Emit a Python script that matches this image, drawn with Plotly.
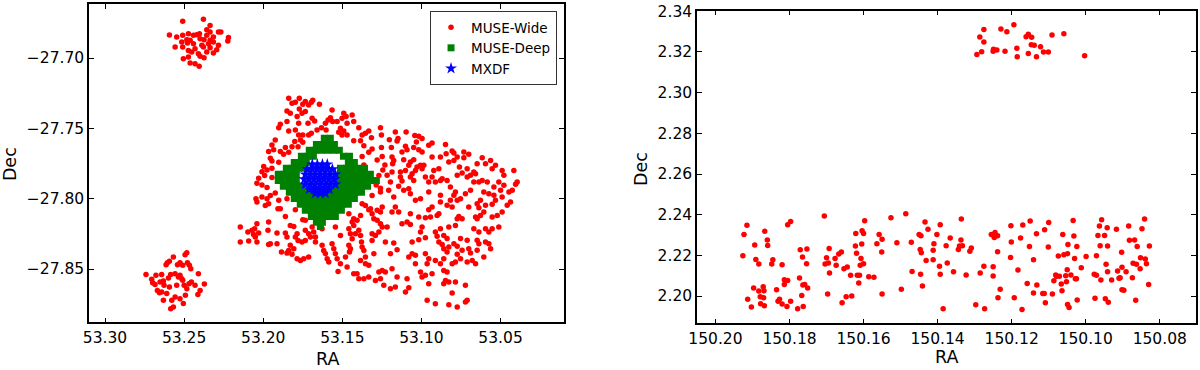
import plotly.graph_objects as go

# MUSE-Wide pointings in CDFS (RA, Dec)
cdfs_nw = [
    (53.2509, -27.6739), (53.2378, -27.6725), (53.2336, -27.6768), (53.2357, -27.6799),
    (53.2336, -27.6815), (53.2283, -27.6815), (53.2268, -27.6815), (53.2593, -27.6836),
    (53.2547, -27.6851), (53.2509, -27.6839), (53.2473, -27.6827), (53.2441, -27.6839),
    (53.2420, -27.6834), (53.2403, -27.6827), (53.2357, -27.6839), (53.2315, -27.6851),
    (53.2220, -27.6855), (53.2224, -27.6879), (53.2483, -27.6870), (53.2462, -27.6874),
    (53.2399, -27.6863), (53.2374, -27.6870), (53.2336, -27.6874), (53.2515, -27.6886),
    (53.2479, -27.6893), (53.2441, -27.6898), (53.2388, -27.6910), (53.2346, -27.6898),
    (53.2315, -27.6886), (53.2283, -27.6910), (53.2557, -27.6922), (53.2509, -27.6922),
    (53.2473, -27.6946), (53.2431, -27.6934), (53.2378, -27.6922), (53.2336, -27.6927),
    (53.2294, -27.6941), (53.2452, -27.6957), (53.2410, -27.6969), (53.2357, -27.6957),
    (53.2315, -27.6964), (53.2399, -27.6988), (53.2505, -27.7005), (53.2473, -27.6993),
    (53.2462, -27.7036), (53.2405, -27.7059), (53.2431, -27.7040), (53.2374, -27.6998),
]

cdfs_sw = [
    (53.2741, -27.8540), (53.2705, -27.8573), (53.2678, -27.8545), (53.2642, -27.8540),
    (53.2699, -27.8597), (53.2684, -27.8611), (53.2652, -27.8592), (53.2631, -27.8585),
    (53.2614, -27.8469), (53.2606, -27.8455), (53.2593, -27.8445), (53.2585, -27.8540),
    (53.2599, -27.8564), (53.2568, -27.8415), (53.2557, -27.8533), (53.2536, -27.8557),
    (53.2526, -27.8545), (53.2515, -27.8569), (53.2509, -27.8580), (53.2542, -27.8469),
    (53.2526, -27.8455), (53.2509, -27.8474), (53.2494, -27.8398), (53.2483, -27.8384),
    (53.2479, -27.8455), (53.2467, -27.8474), (53.2458, -27.8498), (53.2454, -27.8592),
    (53.2483, -27.8640), (53.2492, -27.8687), (53.2505, -27.8746), (53.2526, -27.8711),
    (53.2557, -27.8699), (53.2578, -27.8723), (53.2585, -27.8782), (53.2568, -27.8770),
    (53.2610, -27.8675), (53.2631, -27.8723), (53.2642, -27.8663), (53.2669, -27.8652),
    (53.2656, -27.8668), (53.2627, -27.8616), (53.2410, -27.8533), (53.2372, -27.8607),
    (53.2399, -27.8652), (53.2413, -27.8682), (53.2547, -27.8616), (53.2500, -27.8616),
    (53.2469, -27.8604), (53.2431, -27.8616), (53.2593, -27.8628),
]

cdfs_main = [
    # north-west part
    (53.1839, -27.7286), (53.1818, -27.7322), (53.1797, -27.7315), (53.1772, -27.7286),
    (53.1750, -27.7329), (53.1734, -27.7310), (53.1713, -27.7334), (53.1696, -27.7315),
    (53.1687, -27.7300), (53.1645, -27.7329), (53.1850, -27.7376), (53.1829, -27.7393),
    (53.1786, -27.7416), (53.1772, -27.7362), (53.1755, -27.7393), (53.1734, -27.7381),
    (53.1691, -27.7428), (53.1675, -27.7447), (53.1717, -27.7464), (53.1776, -27.7464),
    (53.1892, -27.7471), (53.1902, -27.7495), (53.1850, -27.7452), (53.1839, -27.7518),
    (53.1797, -27.7511), (53.1776, -27.7547), (53.1750, -27.7547), (53.1713, -27.7547),
    (53.1696, -27.7535), (53.1660, -27.7511), (53.1632, -27.7495), (53.1607, -27.7464),
    (53.1603, -27.7511), (53.1590, -27.7440), (53.1575, -27.7424), (53.1565, -27.7369),
    (53.1561, -27.7452), (53.1533, -27.7452), (53.1512, -27.7499), (53.1502, -27.7428),
    (53.1491, -27.7393), (53.1476, -27.7416), (53.1470, -27.7464), (53.1438, -27.7405),
    (53.1428, -27.7452), (53.1523, -27.7528), (53.1491, -27.7518), (53.1470, -27.7547),
    (53.1502, -27.7547), (53.1396, -27.7495), (53.1375, -27.7547), (53.1354, -27.7535),
    (53.1333, -27.7518), (53.1316, -27.7566), (53.1259, -27.7495), (53.1253, -27.7547),
    (53.1428, -27.7589), (53.1385, -27.7589), (53.1364, -27.7623), (53.1312, -27.7646),
    (53.1333, -27.7670), (53.1253, -27.7637), (53.1248, -27.7701), (53.1375, -27.7701),
    (53.1364, -27.7760), (53.1280, -27.7725), (53.1231, -27.7760), (53.1244, -27.7796),
    (53.1269, -27.7836), (53.1286, -27.7902), (53.1259, -27.7926),
    (53.1924, -27.7582), (53.1945, -27.7618), (53.1966, -27.7665), (53.1934, -27.7653),
    (53.1892, -27.7665), (53.1871, -27.7684), (53.1955, -27.7713), (53.1945, -27.7732),
    (53.1902, -27.7741), (53.1997, -27.7772), (53.2008, -27.7808), (53.1991, -27.7836),
    (53.1976, -27.7796), (53.1945, -27.7784), (53.2029, -27.7855), (53.2040, -27.7890),
    (53.2008, -27.7902), (53.1976, -27.7921), (53.1945, -27.7850), (53.1801, -27.7594),
    (53.1765, -27.7582), (53.1750, -27.7599), (53.1780, -27.7630), (53.1818, -27.7630),
    (53.1860, -27.7637), (53.1839, -27.7670),
    # north-east part
    (53.1165, -27.7526), (53.1097, -27.7526), (53.1203, -27.7581), (53.1154, -27.7590),
    (53.1148, -27.7573), (53.1042, -27.7550), (53.1017, -27.7557), (53.0996, -27.7573),
    (53.1032, -27.7597), (53.0954, -27.7621), (53.0933, -27.7604), (53.1101, -27.7628),
    (53.1091, -27.7652), (53.1049, -27.7637), (53.1017, -27.7652), (53.0996, -27.7668),
    (53.1190, -27.7637), (53.1186, -27.7704), (53.1175, -27.7728), (53.1182, -27.7751),
    (53.1123, -27.7668), (53.1112, -27.7723), (53.1080, -27.7763), (53.1070, -27.7739),
    (53.1049, -27.7723), (53.1028, -27.7775), (53.1006, -27.7763), (53.0985, -27.7763),
    (53.0848, -27.7614), (53.0844, -27.7680), (53.0806, -27.7661), (53.0795, -27.7675),
    (53.0774, -27.7704), (53.0732, -27.7668), (53.0701, -27.7685), (53.0732, -27.7709),
    (53.0795, -27.7728), (53.0827, -27.7739), (53.0880, -27.7704), (53.0933, -27.7704),
    (53.0890, -27.7787), (53.0922, -27.7799), (53.0933, -27.7846), (53.0975, -27.7846),
    (53.0954, -27.7882), (53.0996, -27.7787), (53.1038, -27.7799), (53.1059, -27.7822),
    (53.1101, -27.7799), (53.1133, -27.7810), (53.1133, -27.7846), (53.1123, -27.7874),
    (53.1070, -27.7846), (53.1049, -27.7870), (53.1186, -27.7810), (53.1217, -27.7834),
    (53.1196, -27.7882), (53.1207, -27.7941), (53.1144, -27.7912), (53.1112, -27.7941),
    (53.1080, -27.7929), (53.1070, -27.7965), (53.1038, -27.8012), (53.1006, -27.8000),
    (53.0954, -27.7953), (53.0912, -27.7882), (53.0880, -27.7870), (53.0869, -27.7858),
    (53.0838, -27.7870), (53.0817, -27.7917), (53.0774, -27.7834), (53.0760, -27.7775),
    (53.0711, -27.7846), (53.0669, -27.7810), (53.0658, -27.7822), (53.0648, -27.7751),
    (53.0616, -27.7709), (53.0595, -27.7751), (53.0563, -27.7728), (53.0553, -27.7787),
    (53.0532, -27.7763), (53.0490, -27.7799), (53.0479, -27.7834), (53.0416, -27.7799),
    (53.0395, -27.7882), (53.0405, -27.7898), (53.0426, -27.7941), (53.0447, -27.7953),
    (53.0479, -27.7905), (53.0511, -27.7882), (53.0542, -27.7917), (53.0584, -27.7882),
    (53.0616, -27.7870), (53.0637, -27.7882), (53.0606, -27.7953), (53.0574, -27.7965),
    (53.0542, -27.7976), (53.0500, -27.7941), (53.0490, -27.7988), (53.0532, -27.8012),
    (53.0553, -27.8040), (53.0595, -27.8047), (53.0627, -27.8012), (53.0648, -27.8036),
    (53.0690, -27.7941), (53.0722, -27.7965), (53.0785, -27.7953), (53.0795, -27.7976),
    (53.0774, -27.8012), (53.0753, -27.8000), (53.0817, -27.8012), (53.0838, -27.8047),
    (53.0880, -27.7976), (53.0880, -27.8024), (53.0933, -27.8059), (53.0954, -27.8078),
    (53.1175, -27.7988), (53.1165, -27.8059), (53.0806, -27.8059), (53.0701, -27.8059),
    (53.0637, -27.8064), (53.0458, -27.8047), (53.0437, -27.8024), (53.0669, -27.7882),
    (53.0690, -27.7834), (53.0711, -27.7787), (53.0743, -27.7818),
    # south-west part
    (53.2046, -27.8000), (53.2040, -27.8024), (53.2008, -27.7988), (53.1976, -27.8000),
    (53.1966, -27.8036), (53.1987, -27.8048), (53.1955, -27.7977), (53.1924, -27.7960),
    (53.1902, -27.8012), (53.1850, -27.8000), (53.1907, -27.8071), (53.1892, -27.8071),
    (53.1860, -27.8126), (53.1797, -27.8078), (53.2145, -27.8202), (53.2097, -27.8237),
    (53.2071, -27.8225), (53.2054, -27.8214), (53.2040, -27.8178), (53.2061, -27.8254),
    (53.2050, -27.8273), (53.2040, -27.8308), (53.2092, -27.8301), (53.2145, -27.8308),
    (53.2029, -27.8244), (53.1966, -27.8166), (53.1970, -27.8225), (53.1955, -27.8320),
    (53.1913, -27.8320), (53.1966, -27.8325), (53.1913, -27.8244), (53.1860, -27.8244),
    (53.1850, -27.8273), (53.1829, -27.8190), (53.1807, -27.8197), (53.1786, -27.8249),
    (53.1797, -27.8273), (53.1829, -27.8332), (53.1839, -27.8368), (53.1807, -27.8356),
    (53.1818, -27.8396), (53.1786, -27.8427), (53.1765, -27.8439), (53.1744, -27.8427),
    (53.1780, -27.8297), (53.1755, -27.8308), (53.1734, -27.8297), (53.1713, -27.8249),
    (53.1702, -27.8273), (53.1734, -27.8225), (53.1691, -27.8202), (53.1681, -27.8237),
    (53.1670, -27.8273), (53.1670, -27.8308), (53.1628, -27.8214), (53.1734, -27.8154),
    (53.1750, -27.8150), (53.1885, -27.8379), (53.1850, -27.8387), (53.1713, -27.8415),
    (53.1628, -27.8332), (53.1618, -27.8368), (53.1607, -27.8391), (53.1596, -27.8427),
    (53.1565, -27.8320), (53.1554, -27.8356), (53.1544, -27.8391), (53.1533, -27.8427),
    (53.1586, -27.8451), (53.1512, -27.8462), (53.1480, -27.8415), (53.1470, -27.8486),
    (53.1527, -27.8517), (53.1512, -27.8261), (53.1544, -27.8202), (53.1459, -27.8214),
    (53.1449, -27.8249), (53.1438, -27.8285), (53.1459, -27.8332), (53.1449, -27.8356),
    (53.1455, -27.8379), (53.1417, -27.8249), (53.1428, -27.8190), (53.1428, -27.8142),
    (53.1396, -27.8225), (53.1385, -27.8261), (53.1379, -27.8308), (53.1375, -27.8344),
    (53.1364, -27.8368), (53.1385, -27.8439), (53.1354, -27.8415), (53.1354, -27.8462),
    (53.1333, -27.8474), (53.1312, -27.8297), (53.1312, -27.8249), (53.1291, -27.8261),
    (53.1269, -27.8237), (53.1259, -27.8178), (53.1280, -27.8154), (53.1301, -27.8142),
    (53.1312, -27.8107), (53.1333, -27.8078), (53.1354, -27.8048), (53.1322, -27.8071),
    (53.1280, -27.8083), (53.1259, -27.8095), (53.1248, -27.8060), (53.1385, -27.8119),
    (53.1407, -27.8154), (53.1438, -27.8166), (53.1459, -27.8107), (53.1301, -27.8391),
    (53.1269, -27.8522), (53.1259, -27.8569), (53.1248, -27.8510), (53.1238, -27.8616),
    (53.1333, -27.8557), (53.1364, -27.8569), (53.1396, -27.8569), (53.1407, -27.8534),
    (53.1428, -27.8534), (53.1291, -27.8581), (53.1375, -27.8036), (53.1259, -27.7953),
    (53.1312, -27.7977), (53.1248, -27.8202),
    # south-east part
    (53.1186, -27.8095), (53.1144, -27.8095), (53.1070, -27.8107), (53.1017, -27.8130),
    (53.0975, -27.8135), (53.0943, -27.8130), (53.0901, -27.8119), (53.0890, -27.8107),
    (53.0774, -27.8142), (53.0764, -27.8126), (53.0743, -27.8142), (53.0658, -27.8130),
    (53.0648, -27.8142), (53.0627, -27.8119), (53.0606, -27.8095), (53.0553, -27.8130),
    (53.0521, -27.8119), (53.0490, -27.8095), (53.1217, -27.8202), (53.1123, -27.8178),
    (53.1091, -27.8166), (53.1070, -27.8183), (53.0996, -27.8202), (53.1006, -27.8237),
    (53.0912, -27.8237), (53.0880, -27.8213), (53.0859, -27.8261), (53.0827, -27.8202),
    (53.0785, -27.8190), (53.0669, -27.8213), (53.0637, -27.8237), (53.0595, -27.8213),
    (53.0574, -27.8237), (53.0553, -27.8213), (53.0511, -27.8202), (53.1228, -27.8308),
    (53.1175, -27.8315), (53.1154, -27.8363), (53.1196, -27.8391), (53.1059, -27.8308),
    (53.1017, -27.8292), (53.0975, -27.8277), (53.0901, -27.8268), (53.0890, -27.8308),
    (53.0869, -27.8325), (53.0838, -27.8284), (53.0859, -27.8356), (53.0838, -27.8379),
    (53.0827, -27.8344), (53.0795, -27.8320), (53.0774, -27.8339), (53.0753, -27.8284),
    (53.0711, -27.8296), (53.0701, -27.8356), (53.0690, -27.8386), (53.0648, -27.8296),
    (53.0637, -27.8320), (53.0595, -27.8308), (53.0574, -27.8320), (53.0563, -27.8356),
    (53.0606, -27.8415), (53.0648, -27.8367), (53.0679, -27.8439), (53.0658, -27.8462),
    (53.0711, -27.8450), (53.0743, -27.8367), (53.0774, -27.8396), (53.0753, -27.8427),
    (53.0785, -27.8450), (53.0806, -27.8462), (53.0859, -27.8427), (53.0880, -27.8462),
    (53.0912, -27.8439), (53.0954, -27.8427), (53.0964, -27.8462), (53.0975, -27.8391),
    (53.1038, -27.8403), (53.1059, -27.8391), (53.1080, -27.8415), (53.1038, -27.8462),
    (53.1006, -27.8521), (53.0996, -27.8557), (53.0975, -27.8545), (53.0933, -27.8533),
    (53.0859, -27.8510), (53.0838, -27.8521), (53.0827, -27.8593), (53.0848, -27.8581),
    (53.0859, -27.8604), (53.0785, -27.8593), (53.0722, -27.8616), (53.0806, -27.8671),
    (53.0954, -27.8604), (53.1091, -27.8569), (53.1080, -27.8633), (53.1101, -27.8664),
    (53.1165, -27.8628), (53.1196, -27.8640), (53.1154, -27.8557), (53.1186, -27.8498),
    (53.1228, -27.8521), (53.0964, -27.8723), (53.0912, -27.8747), (53.0827, -27.8754),
    (53.0774, -27.8770), (53.0722, -27.8735), (53.0711, -27.8723),
]

# MUSE-Deep: rows of sources (Dec, list of RA)
deep_rows = [
    (-27.7571, [53.1614, 53.1576]),
    (-27.7614, [53.1664, 53.1626, 53.1588, 53.1550]),
    (-27.7656, [53.1709, 53.1671, 53.1633, 53.1595, 53.1557, 53.1519]),
    (-27.7699, [53.1759, 53.1721, 53.1683, 53.1493, 53.1455]),
    (-27.7742, [53.1804, 53.1766, 53.1728, 53.1462, 53.1424]),
    (-27.7784, [53.1854, 53.1816, 53.1778, 53.1740, 53.1512, 53.1474, 53.1436, 53.1398, 53.1360]),
    (-27.7827, [53.1905, 53.1867, 53.1829, 53.1791, 53.1512, 53.1474, 53.1436, 53.1398, 53.1360, 53.1323]),
    (-27.7870, [53.1905, 53.1867, 53.1829, 53.1791, 53.1512, 53.1474, 53.1436, 53.1398, 53.1360, 53.1323, 53.1285]),
    (-27.7912, [53.1873, 53.1835, 53.1797, 53.1759, 53.1532, 53.1493, 53.1455, 53.1417, 53.1379, 53.1341]),
    (-27.7955, [53.1835, 53.1797, 53.1759, 53.1721, 53.1683, 53.1645, 53.1607, 53.1569, 53.1532,
                53.1493, 53.1455, 53.1417, 53.1379]),
    (-27.7998, [53.1804, 53.1766, 53.1728, 53.1690, 53.1652, 53.1614, 53.1576, 53.1538, 53.1500,
                53.1462, 53.1424]),
    (-27.8040, [53.1766, 53.1728, 53.1690, 53.1652, 53.1614, 53.1576, 53.1538, 53.1500, 53.1462]),
    (-27.8083, [53.1734, 53.1696, 53.1658, 53.1620, 53.1582, 53.1544, 53.1506]),
    (-27.8126, [53.1696, 53.1658, 53.1620, 53.1582, 53.1544]),
    (-27.8168, [53.1664, 53.1626]),
    (-27.8197, [53.1639]),
]

# MXDF: rows of sources (Dec, list of RA)
mxdf_rows = [
    (-27.7756, [53.1690, 53.1658, 53.1626, 53.1595]),
    (-27.7791, [53.1721, 53.1690, 53.1658, 53.1626, 53.1595, 53.1563]),
    (-27.7827, [53.1734, 53.1702, 53.1671, 53.1639, 53.1607, 53.1576, 53.1544]),
    (-27.7862, [53.1740, 53.1709, 53.1677, 53.1645, 53.1614, 53.1582, 53.1550]),
    (-27.7898, [53.1734, 53.1702, 53.1671, 53.1639, 53.1607, 53.1576, 53.1544]),
    (-27.7933, [53.1709, 53.1677, 53.1645, 53.1614, 53.1582]),
    (-27.7962, [53.1671, 53.1639, 53.1607]),
]

# MUSE-Wide in COSMOS (right panel)
cosmos_top = [
    (150.1294, 2.3188), (150.1286, 2.3274), (150.1281, 2.3201), (150.1275, 2.3311),
    (150.1275, 2.3249), (150.1250, 2.3203), (150.1249, 2.3213), (150.1240, 2.3210),
    (150.1229, 2.3313), (150.1218, 2.3203), (150.1213, 2.3300), (150.1194, 2.3334),
    (150.1186, 2.3218), (150.1185, 2.3177), (150.1161, 2.3275), (150.1155, 2.3287),
    (150.1155, 2.3193), (150.1146, 2.3272), (150.1147, 2.3236), (150.1139, 2.3233),
    (150.1133, 2.3177), (150.1122, 2.3226), (150.1114, 2.3200), (150.1101, 2.3200),
    (150.1091, 2.3283), (150.1059, 2.3290), (150.1003, 2.3182),
]

cosmos_bottom = [
    (150.1926, 2.2198), (150.1923, 2.2302), (150.1915, 2.2348), (150.1913, 2.1984),
    (150.1903, 2.1946), (150.1897, 2.2039), (150.1894, 2.2251), (150.1891, 2.2180),
    (150.1883, 2.2157), (150.1883, 2.2025), (150.1879, 2.1997), (150.1878, 2.1962),
    (150.1871, 2.2046), (150.1870, 2.1992), (150.1869, 2.2026), (150.1868, 2.1952),
    (150.1867, 2.2318), (150.1860, 2.2275), (150.1859, 2.2249), (150.1848, 2.2157),
    (150.1845, 2.2179), (150.1835, 2.2031), (150.1831, 2.1975), (150.1827, 2.1984),
    (150.1820, 2.2154), (150.1820, 2.1961), (150.1814, 2.2080), (150.1814, 2.2057),
    (150.1807, 2.1949), (150.1805, 2.2077), (150.1805, 2.2351), (150.1797, 2.2366),
    (150.1797, 2.1975), (150.1778, 2.1938), (150.1773, 2.2089), (150.1771, 2.2228),
    (150.1767, 2.2003), (150.1765, 2.2192), (150.1763, 2.1948), (150.1764, 2.2054),
    (150.1759, 2.2057), (150.1754, 2.2159), (150.1753, 2.2231), (150.1751, 2.2039),
    (150.1706, 2.2393), (150.1704, 2.2157), (150.1700, 2.2188), (150.1697, 2.2010),
    (150.1695, 2.2162), (150.1693, 2.2234), (150.1692, 2.2113), (150.1677, 2.2184),
    (150.1674, 2.2152), (150.1667, 2.2207), (150.1660, 2.2216), (150.1658, 2.1967),
    (150.1653, 2.2134), (150.1647, 2.1997), (150.1644, 2.2143), (150.1635, 2.2102),
    (150.1632, 2.2000), (150.1622, 2.2246), (150.1621, 2.2308), (150.1619, 2.2210),
    (150.1617, 2.2102), (150.1613, 2.2064), (150.1611, 2.2102), (150.1609, 2.2151),
    (150.1607, 2.2184), (150.1605, 2.2256), (150.1604, 2.2321), (150.1600, 2.2308),
    (150.1600, 2.2159), (150.1597, 2.2370), (150.1586, 2.2095), (150.1572, 2.2092),
    (150.1564, 2.2257), (150.1558, 2.2303), (150.1551, 2.2216), (150.1550, 2.2279),
    (150.1550, 2.2010), (150.1526, 2.2385), (150.1510, 2.2262), (150.1498, 2.2033),
    (150.1486, 2.2405), (150.1471, 2.2264), (150.1469, 2.2121), (150.1450, 2.2303),
    (150.1445, 2.2297), (150.1447, 2.2229), (150.1444, 2.2213), (150.1446, 2.2107),
    (150.1441, 2.2049), (150.1434, 2.2364), (150.1431, 2.2175), (150.1426, 2.2328),
    (150.1412, 2.2225), (150.1412, 2.2179), (150.1410, 2.2257), (150.1402, 2.2303),
    (150.1395, 2.2146), (150.1393, 2.2351), (150.1393, 2.2107), (150.1385, 2.1938),
    (150.1377, 2.2247), (150.1374, 2.2162), (150.1366, 2.2285), (150.1357, 2.2120),
    (150.1344, 2.2229), (150.1341, 2.2246), (150.1337, 2.2275), (150.1336, 2.2379),
    (150.1333, 2.2247), (150.1323, 2.2103), (150.1313, 2.2220), (150.1309, 2.2236),
    (150.1297, 2.1957), (150.1285, 2.2113), (150.1275, 2.2146), (150.1273, 2.1938),
    (150.1255, 2.2303), (150.1250, 2.2144), (150.1250, 2.2098), (150.1247, 2.2288),
    (150.1245, 2.2313), (150.1244, 2.2297), (150.1238, 2.2297), (150.1238, 2.2218),
    (150.1237, 2.1992), (150.1231, 2.2033), (150.1203, 2.2190), (150.1202, 2.2346),
    (150.1201, 2.2266), (150.1193, 2.1992), (150.1183, 2.2128), (150.1176, 2.2285),
    (150.1172, 2.1934), (150.1170, 2.2349), (150.1158, 2.2062), (150.1152, 2.2243),
    (150.1150, 2.2369), (150.1141, 2.2179), (150.1141, 2.2015), (150.1133, 2.2306),
    (150.1132, 2.2054), (150.1116, 2.2013), (150.1112, 2.2013), (150.1111, 2.2326),
    (150.1109, 2.1967), (150.1101, 2.2241), (150.1100, 2.2362), (150.1090, 2.2010),
    (150.1086, 2.2075), (150.1081, 2.2103), (150.1079, 2.2097), (150.1074, 2.2197),
    (150.1071, 2.2097), (150.1066, 2.2059), (150.1064, 2.2026), (150.1062, 2.2303),
    (150.1059, 2.2203), (150.1054, 2.2100), (150.1052, 2.2070), (150.1050, 2.2129),
    (150.1048, 2.2254), (150.1049, 2.2208), (150.1049, 2.1959), (150.1045, 2.1944),
    (150.1040, 2.2103), (150.1034, 2.2372), (150.1032, 2.2295), (150.1030, 2.2185),
    (150.1028, 2.2085), (150.1025, 2.2085), (150.1024, 2.2243), (150.1023, 2.1980),
    (150.1012, 2.2139), (150.0999, 2.2195), (150.0977, 2.2107), (150.0975, 2.1989),
    (150.0971, 2.2198), (150.0971, 2.2102), (150.0967, 2.2298), (150.0963, 2.2344),
    (150.0961, 2.2247), (150.0959, 2.2079), (150.0957, 2.2375), (150.0949, 2.2298),
    (150.0947, 2.1987), (150.0945, 2.2156), (150.0942, 2.2336), (150.0941, 2.2246),
    (150.0941, 2.2120), (150.0939, 2.1970), (150.0930, 2.2079), (150.0917, 2.2328),
    (150.0914, 2.2123), (150.0910, 2.2087), (150.0907, 2.2090), (150.0903, 2.2215),
    (150.0902, 2.2141), (150.0902, 2.2031), (150.0897, 2.2029), (150.0891, 2.2120),
    (150.0884, 2.2344), (150.0882, 2.2274), (150.0874, 2.2090), (150.0872, 2.2161),
    (150.0868, 2.2275), (150.0865, 2.1979), (150.0863, 2.2156), (150.0861, 2.2243),
    (150.0853, 2.2134), (150.0852, 2.2188), (150.0848, 2.2331), (150.0841, 2.2379),
    (150.0839, 2.2182), (150.0836, 2.2159), (150.0830, 2.2057), (150.0828, 2.2246),
]

cdfs_xticks = [53.30, 53.25, 53.20, 53.15, 53.10, 53.05]
cdfs_yticks = [-27.85, -27.80, -27.75, -27.70]
cosmos_xticks = [150.20, 150.18, 150.16, 150.14, 150.12, 150.10, 150.08]
cosmos_yticks = [2.20, 2.22, 2.24, 2.26, 2.28, 2.30, 2.32, 2.34]


def split(pts):
    return [p[0] for p in pts], [p[1] for p in pts]


def unrow(rows):
    ra, dec = [], []
    for d, ras in rows:
        ra.extend(ras)
        dec.extend([d] * len(ras))
    return ra, dec


wide_ra, wide_dec = split(cdfs_nw + cdfs_sw + cdfs_main)
deep_ra, deep_dec = unrow(deep_rows)
mxdf_ra, mxdf_dec = unrow(mxdf_rows)
cos_ra, cos_dec = split(cosmos_top + cosmos_bottom)

FONT = "DejaVu Sans"

fig = go.Figure()
fig.add_scatter(x=wide_ra, y=wide_dec, mode="markers", name="MUSE-Wide",
                marker=dict(color="#ff0000", size=5.5, symbol="circle"))
fig.add_scatter(x=deep_ra, y=deep_dec, mode="markers", name="MUSE-Deep",
                marker=dict(color="#008000", size=7, symbol="square"))
fig.add_scatter(x=mxdf_ra, y=mxdf_dec, mode="markers", name="MXDF",
                marker=dict(color="#0000ff", size=9, symbol="star"))
fig.add_scatter(x=cos_ra, y=cos_dec, mode="markers", showlegend=False,
                xaxis="x2", yaxis="y2",
                marker=dict(color="#ff0000", size=5.5, symbol="circle"))

axis_style = dict(
    ticks="inside", ticklen=5, tickwidth=1.2, tickcolor="#000",
    showline=True, linewidth=1.5, linecolor="#000", mirror="ticks",
    showgrid=False, zeroline=False, tickformat=".2f", automargin=False,
    tickfont=dict(family=FONT, size=15.5, color="#000"),
)

title_font = dict(family=FONT, size=17.5, color="#000")

fig.update_layout(
    width=1200, height=370,
    margin=dict(l=0, r=0, t=0, b=0),
    paper_bgcolor="white", plot_bgcolor="white",
    font=dict(family=FONT, color="#000"),
    xaxis=dict(domain=[0.0742, 0.47], range=[53.3101, 53.0099],
               tickvals=cdfs_xticks, **axis_style),
    yaxis=dict(domain=[0.1289, 0.9884], range=[-27.8879, -27.6618],
               tickvals=cdfs_yticks, **axis_style),
    xaxis2=dict(domain=[0.5808, 0.9967], range=[150.205, 150.0702],
                tickvals=cosmos_xticks, anchor="y2", **axis_style),
    yaxis2=dict(domain=[0.1262, 0.9711], range=[2.1866, 2.3403],
                tickvals=cosmos_yticks, anchor="x2", **axis_style),
    legend=dict(x=0.4642, y=0.9703, xanchor="right", yanchor="top",
                bgcolor="white", bordercolor="#333", borderwidth=1,
                font=dict(family=FONT, size=13.5, color="#000")),
    annotations=[
        dict(text="RA", x=0.2725, y=0.031, xref="paper", yref="paper",
             xanchor="center", yanchor="middle", showarrow=False, font=title_font),
        dict(text="Dec", x=0.0085, y=0.557, xref="paper", yref="paper",
             xanchor="center", yanchor="middle", textangle=-90,
             showarrow=False, font=title_font),
        dict(text="RA", x=0.789, y=0.034, xref="paper", yref="paper",
             xanchor="center", yanchor="middle", showarrow=False, font=title_font),
        dict(text="Dec", x=0.534, y=0.543, xref="paper", yref="paper",
             xanchor="center", yanchor="middle", textangle=-90,
             showarrow=False, font=title_font),
    ],
)

# page body has a default margin; drop it so the figure sits at the window origin
fig.write_html("out.html", config={"displayModeBar": False},
               post_script="document.body.style.margin='0';document.body.style.overflow='hidden';")
